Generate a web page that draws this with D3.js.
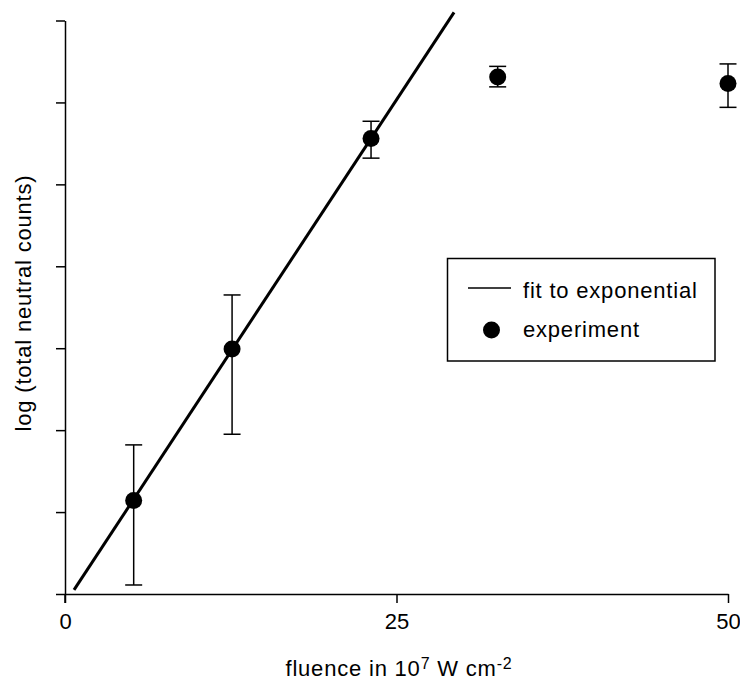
<!DOCTYPE html>
<html>
<head>
<meta charset="utf-8">
<script src="https://cdn.jsdelivr.net/npm/d3@7"></script>
<style>
  body { margin: 0; background: #fff; }
  svg text { font-family: "Liberation Sans", Arial, sans-serif; fill: #000; }
</style>
</head>
<body>
<svg id="chart" width="740" height="680"></svg>
<script>
// Data
const fluence   = [5.18, 12.6, 23.08, 32.63, 50];
const logCounts = [1.14, 2.99, 5.56, 6.31, 6.23];
const errHigh   = [1.82, 3.65, 5.77, 6.44, 6.47];
const errLow    = [0.11, 1.95, 5.32, 6.19, 5.94];
const fitX      = [0.68, 29.34];
const fitY      = [0.05, 7.10];
const xTicks    = [0, 25, 50];
const yTicks    = [0, 1, 2, 3, 4, 5, 6, 7];

const svg = d3.select("#chart");
const x = d3.scaleLinear().domain([0, 50]).range([65, 728]);
const y = d3.scaleLinear().domain([0, 7]).range([594, 20.5]);

const FS = 22;

// X axis
const xAxis = svg.append("g").attr("transform", `translate(0,${y(0)})`)
  .call(d3.axisBottom(x).tickValues(xTicks).tickSize(9).tickPadding(10).tickSizeOuter(0));
xAxis.select(".domain").attr("stroke", "#000").attr("stroke-width", 1.5);
xAxis.selectAll(".tick line").attr("stroke", "#000").attr("stroke-width", 1.5);
xAxis.selectAll(".tick text").attr("font-size", FS).attr("font-family", "Liberation Sans, Arial, sans-serif");

// Y axis (no labels)
const yAxis = svg.append("g").attr("transform", `translate(${x(0)},0)`)
  .call(d3.axisLeft(y).tickValues(yTicks).tickSize(9).tickFormat("").tickSizeOuter(0));
yAxis.select(".domain").attr("stroke", "#000").attr("stroke-width", 1.5);
yAxis.selectAll(".tick line").attr("stroke", "#000").attr("stroke-width", 1.5);
// extend y axis down to match x tick at 0
svg.append("line").attr("x1", x(0)).attr("x2", x(0)).attr("y1", y(0)).attr("y2", y(0) + 9)
  .attr("stroke", "#000").attr("stroke-width", 1.5);

// Fit line
svg.append("line")
  .attr("x1", x(fitX[0])).attr("y1", y(fitY[0]))
  .attr("x2", x(fitX[1])).attr("y2", y(fitY[1]))
  .attr("stroke", "#000").attr("stroke-width", 3);

// Error bars
const pts = fluence.map((f, i) => ({ f, v: logCounts[i], hi: errHigh[i], lo: errLow[i] }));
const cap = 8.5;
const eb = svg.append("g").attr("stroke", "#000").attr("stroke-width", 1.5);
pts.forEach(p => {
  eb.append("line").attr("x1", x(p.f)).attr("x2", x(p.f)).attr("y1", y(p.hi)).attr("y2", y(p.lo));
  eb.append("line").attr("x1", x(p.f) - cap).attr("x2", x(p.f) + cap).attr("y1", y(p.hi)).attr("y2", y(p.hi));
  eb.append("line").attr("x1", x(p.f) - cap).attr("x2", x(p.f) + cap).attr("y1", y(p.lo)).attr("y2", y(p.lo));
});

// Points
svg.append("g").selectAll("circle").data(pts).join("circle")
  .attr("cx", d => x(d.f)).attr("cy", d => y(d.v)).attr("r", 8.5).attr("fill", "#000");

// Legend
const lg = svg.append("g");
lg.append("rect").attr("x", 447.5).attr("y", 258.5).attr("width", 267.5).attr("height", 102.5)
  .attr("fill", "#fff").attr("stroke", "#000").attr("stroke-width", 1.5);
lg.append("line").attr("x1", 468).attr("x2", 511).attr("y1", 288).attr("y2", 288)
  .attr("stroke", "#000").attr("stroke-width", 1.5);
lg.append("text").attr("x", 523).attr("y", 298).attr("font-size", FS).attr("letter-spacing", 0.8).text("fit to exponential");
lg.append("circle").attr("cx", 491.5).attr("cy", 330).attr("r", 8.5).attr("fill", "#000");
lg.append("text").attr("x", 523).attr("y", 337).attr("font-size", FS).attr("letter-spacing", 0.8).text("experiment");

// X axis label
const xl = svg.append("text").attr("x", 399).attr("y", 676).attr("text-anchor", "middle")
  .attr("font-size", FS).attr("letter-spacing", 0.8);
xl.append("tspan").text("fluence in 10");
xl.append("tspan").attr("font-size", 16).attr("dy", -7).text("7");
xl.append("tspan").attr("dy", 7).text(" W cm");
xl.append("tspan").attr("font-size", 16).attr("dy", -7).text("-2");

// Y axis label
svg.append("text").attr("transform", "translate(31,303) rotate(-90)")
  .attr("text-anchor", "middle").attr("font-size", FS).attr("letter-spacing", 0.8)
  .text("log (total neutral counts)");
</script>
</body>
</html>
